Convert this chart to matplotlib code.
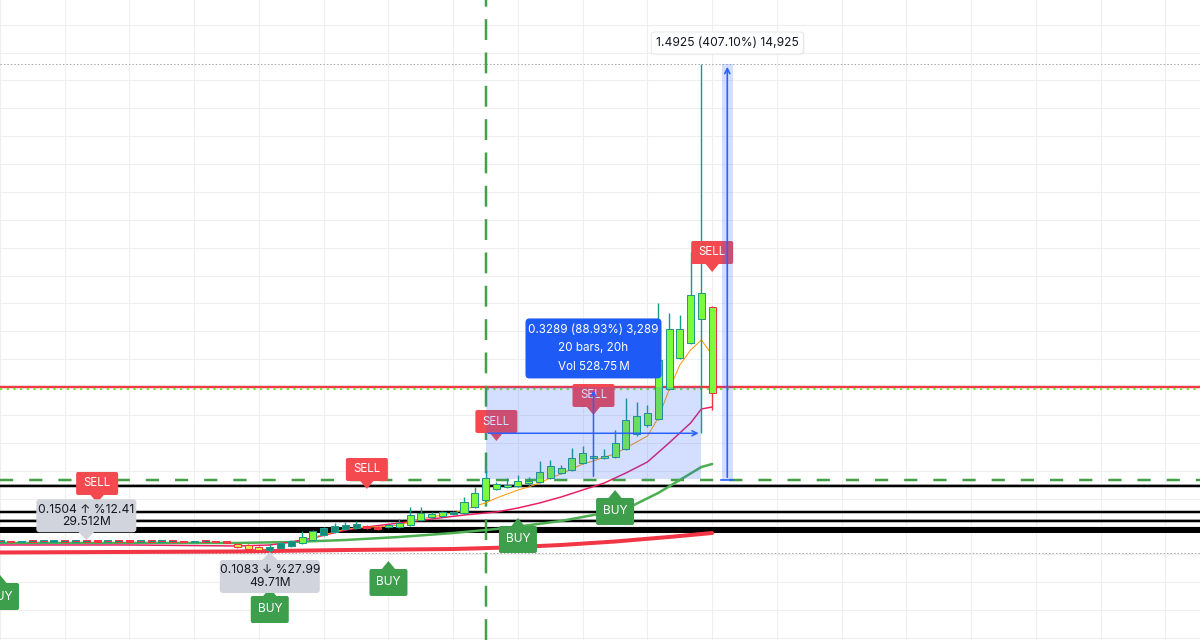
import matplotlib
matplotlib.use("Agg")
import matplotlib.pyplot as plt
from matplotlib.patches import Rectangle, Polygon, FancyBboxPatch
from matplotlib.transforms import IdentityTransform

plt.rcParams['font.family'] = ['Inter', 'DejaVu Sans']
plt.rcParams['lines.scale_dashes'] = False

# ---------------- data ----------------
bars = list(range(-22, 45))
opens = [0.1445, 0.1452, 0.1441, 0.1456, 0.1448, 0.1459, 0.1466, 0.1452, 0.1470, 0.1459, 0.1448,
         0.1463, 0.1456, 0.1445, 0.1459, 0.1452, 0.1463, 0.1448, 0.1441, 0.1456, 0.1445, 0.1434,
         0.1370, 0.1334, 0.1262, 0.1172, 0.1226, 0.1298, 0.1406, 0.1513, 0.1693, 0.1800, 0.1908,
         0.1944, 0.2016, 0.1980, 0.1980, 0.1980, 0.2051, 0.2231, 0.2338, 0.2374, 0.2446, 0.2482,
         0.2697, 0.2948, 0.3343, 0.3415, 0.3451, 0.3558, 0.3594, 0.3738, 0.3917, 0.4025, 0.4276,
         0.4455, 0.4455, 0.4491, 0.4778, 0.5316, 0.5639, 0.5855, 0.6931, 0.8043, 0.8582, 0.9443,
         0.9873]
highs = [0.1463, 0.1459, 0.1463, 0.1463, 0.1466, 0.1473, 0.1473, 0.1477, 0.1504, 0.1466, 0.1470,
         0.1470, 0.1459, 0.1466, 0.1463, 0.1470, 0.1466, 0.1452, 0.1463, 0.1459, 0.1448, 0.1438,
         0.1406, 0.1370, 0.1298, 0.1370, 0.1441, 0.1513, 0.1836, 0.1872, 0.1980, 0.2123, 0.2159,
         0.2195, 0.2051, 0.2016, 0.2087, 0.2267, 0.2697, 0.2697, 0.2518, 0.2554, 0.2554, 0.3056,
         0.3415, 0.4025, 0.3594, 0.3738, 0.3845, 0.3774, 0.4348, 0.4384, 0.4204, 0.4814, 0.4886,
         0.4563, 0.4778, 0.5460, 0.6608, 0.6465, 0.6357, 1.0017, 0.9658, 0.9586, 1.1847, 1.8592,
         0.9909]
lows = [0.1438, 0.1434, 0.1434, 0.1441, 0.1441, 0.1452, 0.1445, 0.1448, 0.1452, 0.1441, 0.1441,
        0.1452, 0.1438, 0.1438, 0.1448, 0.1448, 0.1441, 0.1434, 0.1434, 0.1441, 0.1427, 0.1409,
        0.1226, 0.1154, 0.1118, 0.1083, 0.1190, 0.1262, 0.1370, 0.1477, 0.1657, 0.1764, 0.1872,
        0.1908, 0.1908, 0.1872, 0.1944, 0.1944, 0.2016, 0.2195, 0.2303, 0.2338, 0.2410, 0.2446,
        0.2661, 0.2912, 0.3307, 0.3379, 0.3415, 0.3451, 0.3558, 0.3702, 0.3881, 0.3989, 0.4240,
        0.4419, 0.4419, 0.4455, 0.4742, 0.5244, 0.5567, 0.5819, 0.6895, 0.8007, 0.8546, 0.5352,
        0.6178]
closes = [0.1452, 0.1441, 0.1456, 0.1448, 0.1459, 0.1466, 0.1452, 0.1470, 0.1459, 0.1448, 0.1463,
          0.1456, 0.1445, 0.1459, 0.1452, 0.1463, 0.1448, 0.1441, 0.1456, 0.1445, 0.1434, 0.1420,
          0.1262, 0.1190, 0.1154, 0.1262, 0.1406, 0.1477, 0.1621, 0.1836, 0.1944, 0.2016, 0.2051,
          0.2087, 0.1944, 0.1908, 0.2051, 0.2123, 0.2410, 0.2482, 0.2446, 0.2518, 0.2518, 0.2877,
          0.3200, 0.3738, 0.3522, 0.3487, 0.3630, 0.3630, 0.3953, 0.4168, 0.4097, 0.4455, 0.4635,
          0.4527, 0.4527, 0.4994, 0.5819, 0.5962, 0.6070, 0.7972, 0.9084, 0.9084, 1.0304, 1.0376,
          0.6788]
# body fill type per bar: L lime, T teal, R red, Y yellow
fills = list("RTRTRTTRTRRTRRTRTRRTRR" + "YYYTTTLLTTTTRRLLLLLLTLLLLLLLLLLLLLLLLLLLLLLLL")

ma_fast_bars = list(range(7, 45))
ma_fast = [0.1621, 0.1693, 0.1800, 0.1908, 0.1944, 0.1980, 0.1980, 0.2016, 0.2051, 0.2159, 0.2267,
           0.2338, 0.2410, 0.2482, 0.2590, 0.2733, 0.2841, 0.3020, 0.3164, 0.3307, 0.3415, 0.3558,
           0.3738, 0.3881, 0.4061, 0.4240, 0.4348, 0.4491, 0.4599, 0.4814, 0.5029, 0.5245, 0.5891,
           0.6895, 0.7792, 0.8330, 0.8689, 0.8151]
ma_mid_bars = [-22, -10, 0, 3, 5, 7, 10, 12, 15, 18, 21, 24, 26, 28, 30, 32, 34, 36, 38, 40, 41, 42, 43, 44]
ma_mid = [0.1334, 0.1334, 0.1298, 0.1334, 0.1441, 0.1585, 0.1872, 0.1980, 0.2123, 0.2267, 0.2410,
          0.2518, 0.2661, 0.2841, 0.3056, 0.3307, 0.3558, 0.3917, 0.4312, 0.4994, 0.5352, 0.5711,
          0.6213, 0.6285]
ma_slow_bars = [-22, 0, 5, 10, 15, 20, 25, 30, 33, 36, 39, 41, 43, 44]
ma_slow = [0.1406, 0.1406, 0.1441, 0.1513, 0.1621, 0.1764, 0.1944, 0.2195, 0.2410, 0.2625, 0.3200,
           0.3666, 0.4132, 0.4240]
ma_long_bars = [-22, 0, 10, 20, 25, 30, 35, 40, 44]
ma_long = [0.1065, 0.1101, 0.1154, 0.1190, 0.1244, 0.1334, 0.1459, 0.1621, 0.1764]

green_dashed_level = 0.3666
black_levels = [0.3433, 0.2500, 0.2177, 0.1854]
gray_thin_levels = [0.3505, 0.2249]
red_level = 0.6990
lime_dotted_level = 0.6913
dotted_levels = [1.8592, 0.1047]
vertical_marker_bar = 23

sell_bars = [-13, 12, 24, 33, 44]
sell_prices = [0.2841, 0.3343, 0.5065, 0.5998, 1.1129]
buy_bars = [-22, 3, 14, 26, 35]
buy_prices = [0.0257, -0.0209, 0.0760, 0.2303, 0.3307]

callout_bars = [-14, 3]
callout_prices = [0.1504, 0.1083]
callout_texts = ["0.1504 \u2191 %12.41\n29.512M", "0.1083 \u2193 %27.99\n49.71M"]

m1_bars = [23, 43]
m1_prices = [0.3698, 0.6987]
m1_text = "0.3289 (88.93%) 3,289\n20 bars, 20h\nVol 528.75\u202fM"
m2_bar = 45.4
m2_prices = [0.3666, 1.8592]
m2_text = "1.4925 (407.10%) 14,925"

# ---------------- figure ----------------
W, H = 1200, 640
fig = plt.figure(figsize=(W / 100, H / 100), dpi=100)
ax = fig.add_axes([0, 0, 1, 1])
ax.set_xlim(-21.954, 89.208)
ax.set_ylim(-0.2075, 2.0888)
for s in ax.spines.values():
    s.set_visible(False)
ax.set_xticks(range(-22, 90, 6))
ax.set_yticks([i / 10 for i in range(-2, 21)])
ax.tick_params(length=0, labelbottom=False, labelleft=False)
ax.grid(True, color='#efefef', lw=0.8)
ax.set_axisbelow(True)

dxp = (89.208 + 21.954) / W
dyp = (2.0888 + 0.2075) / H
PT = 0.72  # points per pixel

LIME = '#7dfa3c'
TEAL_FILL = '#138c7a'
TEAL_EDGE = '#1f9a88'
WICK_UP = '#0f9f89'
RED = '#f23645'
YELLOW = '#e4e64a'
fill_map = {'L': LIME, 'T': TEAL_FILL, 'R': RED, 'Y': YELLOW}

# horizontal levels
ax.axhline(green_dashed_level, color='#43a047', lw=2.5 * PT, dashes=(9.5, 11.5), zorder=2)
for lv, w in zip(black_levels, [2.5, 2.5, 2.5, 6]):
    ax.axhline(lv, color='black', lw=w * PT, zorder=2)
for lv in gray_thin_levels:
    ax.axhline(lv, color='#9e9e9e', lw=1 * PT, zorder=2)
ax.axhline(red_level, color=RED, lw=2.4 * PT, zorder=2)
ax.axhline(lime_dotted_level, color='#76e33a', lw=2.2 * PT, dashes=(1.6, 3.2), zorder=2)
for lv in dotted_levels:
    ax.axhline(lv, color='#a3a6af', lw=1 * PT, dashes=(1, 1.5), zorder=2)
ax.axvline(vertical_marker_bar, color='#43a047', lw=2.5 * PT, dashes=(15, 9), zorder=2)

# moving averages
ax.plot(ma_long_bars, ma_long, color=RED, lw=4 * PT, solid_capstyle='round', zorder=3)
ax.plot(ma_slow_bars, ma_slow, color='#4caf50', lw=2.5 * PT, solid_capstyle='round', zorder=3)
ax.plot(ma_mid_bars, ma_mid, color='#e91e63', lw=1.5 * PT, zorder=3)
ax.plot(ma_fast_bars, ma_fast, color='#ff9800', lw=1 * PT, zorder=3)

# candles
bw = 0.65
for b, o, h, l, c, f in zip(bars, opens, highs, lows, closes, fills):
    up = c >= o
    edge = TEAL_EDGE if up else RED
    ax.vlines(b, l, h, color=WICK_UP if up else RED, lw=1.4 * PT, zorder=4)
    bot = min(o, c)
    ht = max(abs(c - o), 1.5 * dyp)
    ax.add_patch(Rectangle((b - bw / 2, bot), bw, ht, facecolor=fill_map[f],
                           edgecolor=edge, lw=1 * PT, zorder=5))

fig.canvas.draw()
T = ax.transData
I = IdentityTransform()


def px(x, y):
    return T.transform((x, y))


# SELL labels
for b, p in zip(sell_bars, sell_prices):
    tx, ty = px(b, p)
    ax.add_patch(FancyBboxPatch((tx - 21, ty + 8), 42, 23, boxstyle='round,pad=0,rounding_size=2',
                                facecolor='#f44a4f', edgecolor='none', transform=I, zorder=6, clip_on=False))
    ax.add_patch(Polygon([(tx - 7, ty + 8.5), (tx + 7, ty + 8.5), (tx, ty)], closed=True,
                         facecolor='#f44a4f', edgecolor='none', transform=I, zorder=6, clip_on=False))
    ax.text(tx, ty + 19.5, 'SELL', transform=I, ha='center', va='center', color='white',
            fontsize=8.3, zorder=6.5)

# BUY labels
for b, p in zip(buy_bars, buy_prices):
    tx, ty = px(b, p)
    ax.add_patch(FancyBboxPatch((tx - 19, ty - 35), 38, 27, boxstyle='round,pad=0,rounding_size=2',
                                facecolor='#3d9f4b', edgecolor='none', transform=I, zorder=6, clip_on=False))
    ax.add_patch(Polygon([(tx - 7, ty - 8.5), (tx + 7, ty - 8.5), (tx, ty)], closed=True,
                         facecolor='#3d9f4b', edgecolor='none', transform=I, zorder=6, clip_on=False))
    ax.text(tx, ty - 21.5, 'BUY', transform=I, ha='center', va='center', color='white',
            fontsize=8.6, zorder=6.5)

# gray callouts
for k, (b, p, t) in enumerate(zip(callout_bars, callout_prices, callout_texts)):
    tx, ty = px(b, p)
    if k == 0:
        y0 = ty + 8
        tri = [(tx - 8, y0 + 0.5), (tx + 8, y0 + 0.5), (tx, ty)]
    else:
        y0 = ty - 8 - 33
        tri = [(tx - 8, ty - 8.5), (tx + 8, ty - 8.5), (tx, ty)]
    ax.add_patch(FancyBboxPatch((tx - 50, y0), 100, 33, boxstyle='round,pad=0,rounding_size=3',
                                facecolor='#d1d4dc', edgecolor='none', transform=I, zorder=6, clip_on=False))
    ax.add_patch(Polygon(tri, closed=True, facecolor='#d1d4dc', edgecolor='none',
                         transform=I, zorder=6, clip_on=False))
    ax.text(tx, y0 + 16.5, t, transform=I, ha='center', va='center', color='#131722',
            fontsize=8.7, linespacing=1.05, zorder=6.5)

# measurement 1 (box)
ax.add_patch(Rectangle((m1_bars[0], m1_prices[0]), m1_bars[1] - m1_bars[0], m1_prices[1] - m1_prices[0],
                       facecolor='#2962ff', alpha=0.2, edgecolor='none', zorder=7))
ymid = (m1_prices[0] + m1_prices[1]) / 2
xmid = (m1_bars[0] + m1_bars[1]) / 2
ax.annotate('', xy=(m1_bars[1], ymid), xytext=(m1_bars[0], ymid),
            arrowprops=dict(arrowstyle='->', color='#2962ff', lw=1.1, mutation_scale=9), zorder=7.5)
ax.annotate('', xy=(xmid, m1_prices[1]), xytext=(xmid, m1_prices[0]),
            arrowprops=dict(arrowstyle='->', color='#2962ff', lw=1.1, mutation_scale=9), zorder=7.5)
cx, cy = px(xmid, m1_prices[1])
ax.add_patch(FancyBboxPatch((cx - 68, cy + 9), 136, 60, boxstyle='round,pad=0,rounding_size=4',
                            facecolor='#1e5af5', edgecolor='none', transform=I, zorder=8, clip_on=False))
ax.text(cx, cy + 39, m1_text, transform=I, ha='center', va='center', color='white',
        fontsize=8.4, linespacing=1.75, zorder=8.5)

# measurement 2 (price range)
ax.add_patch(Rectangle((m2_bar - 0.5, m2_prices[0]), 1.0, m2_prices[1] - m2_prices[0],
                       facecolor='#2962ff', alpha=0.2, edgecolor='none', zorder=7))
ax.annotate('', xy=(m2_bar, m2_prices[1]), xytext=(m2_bar, m2_prices[0]),
            arrowprops=dict(arrowstyle='->', color='#2962ff', lw=1.2, mutation_scale=9), zorder=7.5)
ax.plot([m2_bar - 0.55, m2_bar + 0.55], [m2_prices[0], m2_prices[0]], color='#2962ff', lw=1.2, zorder=7.5)
lx, ly = px(m2_bar, m2_prices[1])
ax.add_patch(FancyBboxPatch((lx - 75, ly + 9.5), 152, 22, boxstyle='round,pad=0,rounding_size=3',
                            facecolor='#e6e8ee', edgecolor='none', transform=I, zorder=7.9, clip_on=False))
ax.add_patch(FancyBboxPatch((lx - 76, ly + 10), 152, 22, boxstyle='round,pad=0,rounding_size=3',
                            facecolor='white', edgecolor='#e3e5ea', lw=0.6, transform=I, zorder=8, clip_on=False))
ax.text(lx, ly + 21, m2_text, transform=I, ha='center', va='center', color='#131722',
        fontsize=8.7, zorder=8.5)

fig.savefig('out.png', dpi=100)
